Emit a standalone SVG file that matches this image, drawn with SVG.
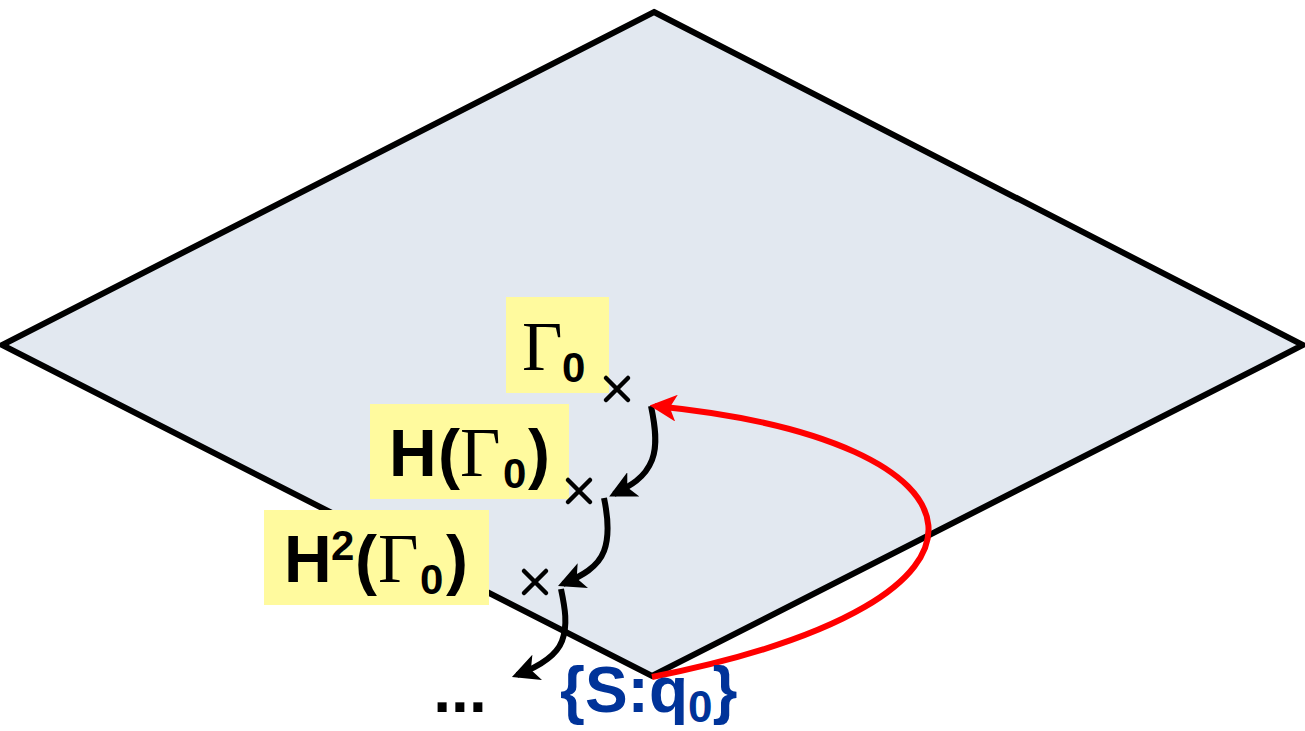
<svg xmlns="http://www.w3.org/2000/svg" width="1305" height="731" viewBox="0 0 1305 731">
<style>
.lbl{fill:#FFFA9E}
.t{font-family:"Liberation Sans",sans-serif;font-weight:bold;font-size:66px;fill:#000}
.g{font-family:"Liberation Serif",serif;font-size:70px;fill:#000}
.s{font-family:"Liberation Sans",sans-serif;font-weight:bold;font-size:42px;fill:#000}
.x{stroke:#000;stroke-width:4.5;stroke-linecap:round}
.blk{fill:none;stroke:#000;stroke-width:6}
</style>
<defs>
<marker id="ab" viewBox="0 0 10 10" refX="8" refY="5" markerWidth="4.5" markerHeight="4.5" orient="auto" markerUnits="strokeWidth"><path d="M0,0L10,5L0,10L2.5,5Z" fill="#000"/></marker>
<marker id="ar" viewBox="0 0 10 10" refX="8" refY="5" markerWidth="4.5" markerHeight="4.5" orient="auto" markerUnits="strokeWidth"><path d="M0,0L10,5L0,10L2.5,5Z" fill="#FF0000"/></marker>
</defs>
<g id="plane"><polygon points="654,12 1303,345 652,676 2,345" fill="#E2E8F0" stroke="#000" stroke-width="6" stroke-linejoin="miter"/></g>
<g id="g0">
<rect class="lbl" x="506" y="297" width="103" height="96"/>
<text class="g" x="522" y="370">Γ</text><text class="s" x="562" y="382">0</text>
<path class="x" d="M606,378L628,400M628,378L606,400"/>
</g>
<g id="g1">
<rect class="lbl" x="370" y="404" width="199" height="95"/>
<text class="t" x="389" y="476">H</text><text class="t" x="438" y="476">(</text><text class="g" x="460" y="476">Γ</text><text class="s" x="503" y="488">0</text><text class="t" x="528" y="476">)</text>
<path class="x" d="M568,480L590,502M590,480L568,502"/>
</g>
<g id="g2">
<rect class="lbl" x="264" y="510" width="225" height="95"/>
<text class="t" x="284" y="582">H</text><text class="s" x="331" y="560" font-size="32">2</text><text class="t" x="355" y="582">(</text><text class="g" x="378" y="582">Γ</text><text class="s" x="420" y="594">0</text><text class="t" x="446" y="582">)</text>
<path class="x" d="M524,571L546,593M546,571L524,593"/>
</g>
<g id="connectors">
<path class="blk" d="M651,406C655,425 658,445 652,460C645,478 630,486 614,494" marker-end="url(#ab)"/>
<path class="blk" d="M604,498C608,517 610,535 604,551C598,567 582,576 563,584" marker-end="url(#ab)"/>
<path class="blk" d="M561,589C565,608 568,625 562,641C556,657 538,667 517,675" marker-end="url(#ab)"/>
<path d="M652,677C1040,600 1000,440 655,406" fill="none" stroke="#FF0000" stroke-width="6" marker-end="url(#ar)"/>
</g>
<g id="texts">
<text x="560" y="712" font-family="Liberation Sans,sans-serif" font-weight="bold" font-size="64" fill="#003399">{S:q<tspan font-size="44" dy="10">0</tspan><tspan dy="-10">}</tspan></text>
<text x="460" y="712" text-anchor="middle" font-family="Liberation Sans,sans-serif" font-weight="bold" font-size="64" fill="#000">...</text>
</g>
</svg>
